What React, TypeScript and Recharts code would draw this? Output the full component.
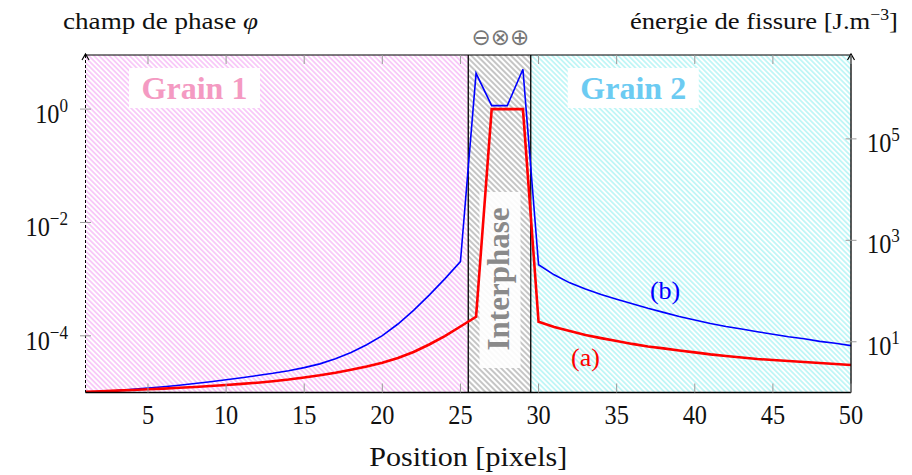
import React from 'react';
import { ComposedChart, Line, XAxis, YAxis, ReferenceArea, ReferenceLine } from 'recharts';

// position along the profile, in pixels
const POSITIONS = [
  1, 2, 3, 4, 5, 6, 7, 8, 9, 10, 11, 12, 13, 14, 15, 16, 17, 18, 19, 20, 21, 22, 23, 24, 25,
  26, 27, 28, 29, 30, 31, 32, 33, 34, 35, 36, 37, 38, 39, 40, 41, 42, 43, 44, 45, 46, 47, 48, 49, 50,
];

// (a) champ de phase, left axis
const PHASE = [
  1.03e-5, 1.05e-5, 1.08e-5, 1.11e-5, 1.14e-5, 1.17e-5, 1.21e-5, 1.25e-5, 1.3e-5, 1.36e-5,
  1.42e-5, 1.49e-5, 1.58e-5, 1.69e-5, 1.84e-5, 2.01e-5, 2.23e-5, 2.52e-5, 2.88e-5, 3.36e-5,
  4.06e-5, 5.18e-5, 7.03e-5, 9.91e-5, 1.46e-4, 2.17e-4, 1.0, 1.0, 1.0, 1.77e-4,
  1.43e-4, 1.22e-4, 1.03e-4, 9.1e-5, 8.1e-5, 7.2e-5, 6.5e-5, 6.0e-5, 5.5e-5, 5.1e-5,
  4.7e-5, 4.4e-5, 4.14e-5, 3.9e-5, 3.74e-5, 3.6e-5, 3.45e-5, 3.31e-5, 3.18e-5, 3.05e-5,
];

// (b) énergie de fissure, right axis
const ENERGY = [
  1.01, 1.05, 1.09, 1.15, 1.22, 1.3, 1.39, 1.5, 1.63, 1.79,
  1.96, 2.16, 2.39, 2.69, 3.09, 3.67, 4.62, 6.17, 8.71, 13.2,
  22.4, 41.7, 83.2, 174, 380, 1.96e6, 4.53e5, 4.53e5, 2.36e6, 331,
  209, 145, 110, 85.1, 69.2, 56.2, 45.7, 38.0, 31.6, 26.9,
  22.9, 20.0, 17.8, 15.8, 14.1, 12.6, 11.5, 10.2, 9.33, 8.41,
];

const X_TICKS = [5, 10, 15, 20, 25, 30, 35, 40, 45, 50];
const PHASE_TICKS = [1, 1e-2, 1e-4];
const ENERGY_TICKS = [1e1, 1e3, 1e5];

const GRAIN_1 = [1, 25.5];
const INTERPHASE = [25.5, 29.5];
const GRAIN_2 = [29.5, 50];

const FONT = '"Liberation Serif", "DejaVu Serif", serif';
const TICK_GREY = '#9a9a9a';
const INK = '#111';

const rows = POSITIONS.map((x, i) => ({ x, phase: PHASE[i], energy: ENERGY[i] }));

function expLabel(v: number) {
  const e = Math.round(Math.log10(v));
  return e < 0 ? `\u2212${-e}` : `${e}`;
}

function LeftTick({ x, y, payload }: any) {
  return (
    <g>
      <line x1={x - 5.5} x2={x + 5.5} y1={y} y2={y} stroke={TICK_GREY} />
      <text
        transform={`translate(${x - 17.5}, ${y + 13.7}) scale(0.9, 1)`}
        textAnchor="end"
        fontFamily={FONT}
        fontSize={27}
        fill={INK}
      >
        10<tspan dy={-11} fontSize={19}>{expLabel(payload.value)}</tspan>
      </text>
    </g>
  );
}

function RightTick({ x, y, payload }: any) {
  return (
    <g>
      <line x1={x - 5.5} x2={x + 5.5} y1={y} y2={y} stroke={TICK_GREY} />
      <text
        transform={`translate(${x + 16}, ${y + 13}) scale(0.9, 1)`}
        textAnchor="start"
        fontFamily={FONT}
        fontSize={27}
        fill={INK}
      >
        10<tspan dy={-11} fontSize={19}>{expLabel(payload.value)}</tspan>
      </text>
    </g>
  );
}

function BottomTick({ x, y, payload }: any) {
  return (
    <g>
      <line x1={x} x2={x} y1={y} y2={y - 9} stroke={TICK_GREY} />
      <text
        transform={`translate(${x}, ${y + 31}) scale(0.9, 1)`}
        textAnchor="middle"
        fontFamily={FONT}
        fontSize={27}
        fill={INK}
      >
        {payload.value}
      </text>
    </g>
  );
}

function TopTick({ x, y }: any) {
  return <line x1={x} x2={x} y1={y} y2={y + 9} stroke={TICK_GREY} />;
}

function GrainLabel({ viewBox, text, color, dx }: any) {
  const cx = viewBox.x + dx;
  const top = viewBox.y + 13;
  return (
    <g>
      <rect x={cx - 65.5} y={top} width={131} height={40} fill="#fff" />
      <text x={cx} y={top + 31} textAnchor="middle" fontFamily={FONT} fontWeight="bold" fontSize={32} fill={color}>
        {text}
      </text>
    </g>
  );
}

function InterphaseLabel({ viewBox }: any) {
  const cx = viewBox.x + viewBox.width / 2;
  return (
    <g>
      <rect x={cx - 20} y={viewBox.y + 137} width={41} height={176} fill="#fff" fillOpacity={0.9} />
      <text
        transform={`translate(${cx + 10}, ${viewBox.y + 224}) rotate(-90)`}
        textAnchor="middle"
        fontFamily={FONT}
        fontWeight="bold"
        fontSize={31}
        fill="#8a8a8a"
      >
        Interphase
      </text>
      <text x={cx + 1} y={viewBox.y - 10} textAnchor="middle" fontFamily='"DejaVu Sans", sans-serif' fontSize={23} fill="#777">
        ⊖⊗⊕
      </text>
    </g>
  );
}

function Arrow({ x, y }: { x: number; y: number }) {
  return <path d={`M${x - 3.5},${y + 5} L${x},${y - 1} L${x + 3.5},${y + 5}`} fill="none" stroke="#000" strokeWidth={1.2} />;
}

function LeftAxisDecor({ viewBox }: any) {
  const x = viewBox.x + viewBox.width;
  return (
    <g>
      <Arrow x={x} y={viewBox.y} />
      <text x={63} y={29} fontFamily={FONT} fontSize={24} fill={INK} textLength={195} lengthAdjust="spacingAndGlyphs">
        champ de phase <tspan fontStyle="italic">φ</tspan>
      </text>
    </g>
  );
}

function RightAxisDecor({ viewBox }: any) {
  return (
    <g>
      <Arrow x={viewBox.x} y={viewBox.y} />
      <text x={630} y={29} fontFamily={FONT} fontSize={24} fill={INK} textLength={268} lengthAdjust="spacingAndGlyphs">
        énergie de fissure [J.m<tspan dy={-9} fontSize={16}>−3</tspan>
        <tspan dy={9}>]</tspan>
      </text>
    </g>
  );
}

function XAxisTitle({ viewBox }: any) {
  return (
    <text
      x={viewBox.x + viewBox.width / 2 - 99}
      y={viewBox.y + 73}
      fontFamily={FONT}
      fontSize={27}
      fill={INK}
      textLength={198}
      lengthAdjust="spacingAndGlyphs"
    >
      Position [pixels]
    </text>
  );
}

function Hatch({ id, color, size, width }: { id: string; color: string; size: number; width: number }) {
  return (
    <pattern id={id} width={size} height={size} patternUnits="userSpaceOnUse" patternTransform="rotate(-45)">
      <line x1={size / 2} y1={0} x2={size / 2} y2={size} stroke={color} strokeWidth={width} />
    </pattern>
  );
}

export default function App() {
  return (
    <div style={{ position: 'absolute', left: 0, top: 0 }}>
      <ComposedChart width={912} height={475} data={rows} margin={{ top: 54, right: 60, bottom: 81.5, left: 84.5 }}>
        <defs>
          <Hatch id="hatch-grain1" color="#f29ef2" size={3.6} width={1} />
          <Hatch id="hatch-inter" color="#8c8c8c" size={4} width={1} />
          <Hatch id="hatch-grain2" color="#8eeeee" size={3.6} width={1} />
        </defs>
        <XAxis
          dataKey="x"
          type="number"
          domain={[1, 50]}
          ticks={X_TICKS}
          interval={0}
          allowDataOverflow
          height={1}
          tickSize={0}
          tickMargin={0}
          tickLine={false}
          tick={<BottomTick />}
          axisLine={{ stroke: '#000', strokeWidth: 1.3 }}
          label={(p: any) => <XAxisTitle {...p} />}
        />
        <XAxis
          xAxisId="top"
          orientation="top"
          dataKey="x"
          type="number"
          domain={[1, 50]}
          ticks={X_TICKS}
          interval={0}
          allowDataOverflow
          height={1}
          tickSize={0}
          tickMargin={0}
          tickLine={false}
          tick={<TopTick />}
          axisLine={{ stroke: '#000', strokeWidth: 1.2 }}
        />
        <YAxis
          yAxisId="phi"
          scale="log"
          type="number"
          domain={[1e-5, 9]}
          allowDataOverflow
          ticks={PHASE_TICKS}
          interval={0}
          width={1}
          tickSize={0}
          tickMargin={0}
          tickLine={false}
          tick={<LeftTick />}
          axisLine={{ stroke: '#000', strokeWidth: 1, strokeDasharray: '3 2' }}
          label={(p: any) => <LeftAxisDecor {...p} />}
        />
        <YAxis
          yAxisId="energy"
          orientation="right"
          scale="log"
          type="number"
          domain={[1, 4.5e6]}
          allowDataOverflow
          ticks={ENERGY_TICKS}
          interval={0}
          width={1}
          tickSize={0}
          tickMargin={0}
          tickLine={false}
          tick={<RightTick />}
          axisLine={{ stroke: '#000', strokeWidth: 1.3 }}
          label={(p: any) => <RightAxisDecor {...p} />}
        />

        <ReferenceArea
          yAxisId="phi"
          x1={GRAIN_1[0]}
          x2={GRAIN_1[1]}
          fill="url(#hatch-grain1)"
          fillOpacity={1}
          stroke="none"
          label={(p: any) => <GrainLabel {...p} text="Grain 1" color="#f49ac2" dx={109} />}
        />
        <ReferenceArea
          yAxisId="phi"
          x1={INTERPHASE[0]}
          x2={INTERPHASE[1]}
          fill="url(#hatch-inter)"
          fillOpacity={1}
          stroke="none"
          label={(p: any) => <InterphaseLabel {...p} />}
        />
        <ReferenceArea
          yAxisId="phi"
          x1={GRAIN_2[0]}
          x2={GRAIN_2[1]}
          fill="url(#hatch-grain2)"
          fillOpacity={1}
          stroke="none"
          label={(p: any) => <GrainLabel {...p} text="Grain 2" color="#6ccbf2" dx={102.5} />}
        />
        <ReferenceLine yAxisId="phi" x={INTERPHASE[0]} stroke="#000" strokeWidth={1.3} />
        <ReferenceLine yAxisId="phi" x={INTERPHASE[1]} stroke="#000" strokeWidth={1.3} />

        <Line
          yAxisId="energy"
          type="linear"
          dataKey="energy"
          stroke="#0000ff"
          strokeWidth={1.6}
          dot={false}
          isAnimationActive={false}
        />
        <Line
          yAxisId="phi"
          type="linear"
          dataKey="phase"
          stroke="#ff0000"
          strokeWidth={2.6}
          dot={false}
          isAnimationActive={false}
        />

        <ReferenceLine
          yAxisId="phi"
          x={38.1}
          stroke="none"
          label={(p: any) => (
            <text x={p.viewBox.x} y={299} textAnchor="middle" fontFamily={FONT} fontSize={26} fill="#0000ff">
              (b)
            </text>
          )}
        />
        <ReferenceLine
          yAxisId="phi"
          x={33}
          stroke="none"
          label={(p: any) => (
            <text x={p.viewBox.x} y={366} textAnchor="middle" fontFamily={FONT} fontSize={26} fill="#ff0000">
              (a)
            </text>
          )}
        />
      </ComposedChart>
    </div>
  );
}
